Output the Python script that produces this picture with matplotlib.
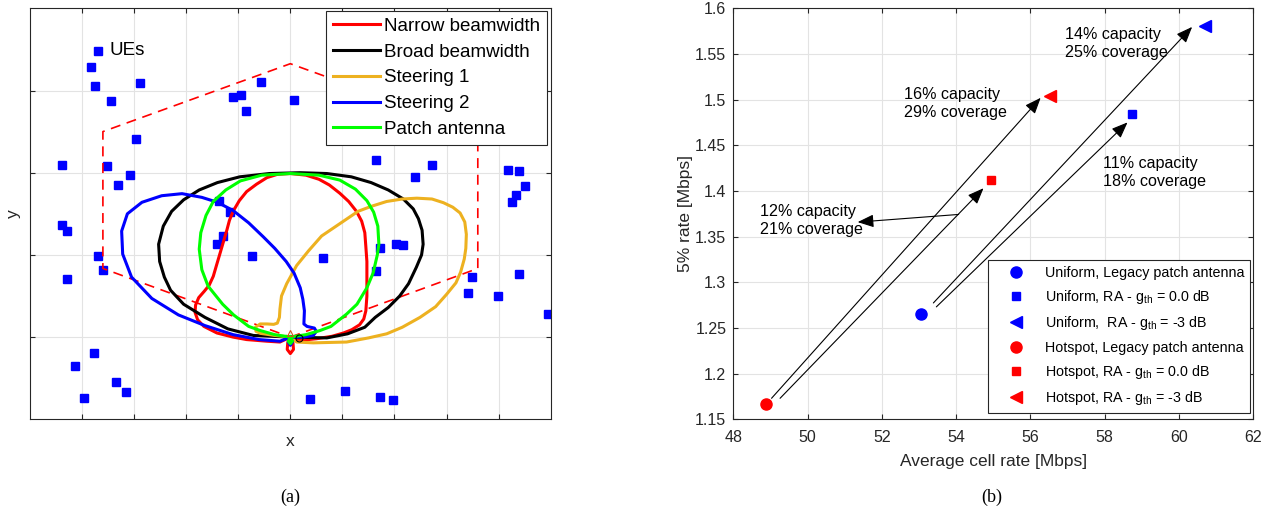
import matplotlib
matplotlib.use('Agg')
import matplotlib.pyplot as plt
import numpy as np
from matplotlib.ticker import FuncFormatter

plt.rcParams['font.family'] = ['Liberation Sans', 'DejaVu Sans']
plt.rcParams['mathtext.fontset'] = 'custom'
plt.rcParams['mathtext.rm'] = 'Liberation Sans'
plt.rcParams['mathtext.it'] = 'Liberation Sans:italic'
plt.rcParams['mathtext.bf'] = 'Liberation Sans:bold'

# ---------------- Panel (a) data ----------------
ue_x = [-3.685, -3.831, -3.749, -2.885, -3.441, -2.967, -4.388, -3.518, -3.083, -3.307,
        -0.568, -1.106, -0.940, -0.850, 0.065, 1.639, -1.363, -1.157, 2.714, 2.388,
        4.173, 4.384, 4.511, 4.326, 4.250, -4.376, -4.280, -3.685, -3.595, -4.280,
        -3.768, -4.132, -3.345, -3.159, -3.954, -1.298, -1.413, -0.729, 0.628, 1.639,
        1.722, 2.029, 2.157, 0.372, 1.050, 1.716, 1.965, 3.493, 3.411, 3.981, 4.384, 4.940]
ue_y = [3.484, 3.281, 3.052, 3.088, 2.878, 2.412, 2.090, 2.078, 1.968, 1.855,
        3.103, 2.918, 2.945, 2.748, 2.881, 2.154, 1.657, 1.527, 2.097, 1.948,
        2.033, 2.021, 1.835, 1.733, 1.648, 1.362, 1.285, 0.990, 0.817, 0.712,
        -0.189, -0.352, -0.549, -0.667, -0.735, 1.233, 1.132, 0.990, 0.966, 0.802,
        1.084, 1.132, 1.115, -0.755, -0.658, -0.727, -0.764, 0.727, 0.538, 0.505, 0.768, 0.275]

cell_x = [0.0, 3.6, 3.6, 0.0, -3.6, -3.6, 0.0]
cell_y = [0.0, 0.835, 2.5, 3.326, 2.5, 0.835, 0.0]

narrow_pts = [(0, 0), (-0.05, -0.07), (-0.06, -0.15), (0, -0.2), (0.06, -0.15), (0.05, -0.07), (0, 0),
              (0.2, -0.04), (0.5, -0.02), (0.8, 0.01), (1.02, 0.05), (1.18, 0.09), (1.33, 0.15),
              (1.41, 0.22), (1.45, 0.32), (1.47, 0.50), (1.47, 0.70), (1.47, 0.92), (1.45, 1.10),
              (1.43, 1.27), (1.37, 1.41), (1.27, 1.53), (1.12, 1.65), (0.95, 1.75), (0.75, 1.85),
              (0.55, 1.92), (0.3, 1.97), (0, 1.99), (-0.25, 1.98), (-0.45, 1.94), (-0.65, 1.86),
              (-0.84, 1.77), (-0.98, 1.66), (-1.10, 1.53), (-1.17, 1.42), (-1.22, 1.30),
              (-1.29, 1.15), (-1.35, 1.02), (-1.42, 0.87), (-1.48, 0.74), (-1.56, 0.63),
              (-1.65, 0.56), (-1.76, 0.48), (-1.82, 0.39), (-1.83, 0.30), (-1.78, 0.21),
              (-1.66, 0.13), (-1.41, 0.05), (-1.10, 0.0), (-0.84, -0.03), (-0.45, -0.05),
              (-0.2, -0.06), (0, 0)]
broad_pts = [(0, 0), (0.7, -0.01), (1.1, 0.04), (1.43, 0.12), (1.63, 0.24), (1.88, 0.36),
             (2.1, 0.50), (2.27, 0.65), (2.42, 0.85), (2.52, 1.0), (2.55, 1.13), (2.53, 1.30),
             (2.46, 1.44), (2.36, 1.56), (2.17, 1.68), (1.88, 1.79), (1.55, 1.88), (1.17, 1.95),
             (0.7, 1.99), (0.19, 2.0), (-0.4, 1.99), (-0.97, 1.95), (-1.40, 1.88), (-1.75, 1.79),
             (-2.05, 1.67), (-2.28, 1.53), (-2.44, 1.35), (-2.53, 1.13), (-2.51, 0.92),
             (-2.42, 0.73), (-2.30, 0.57), (-2.05, 0.40), (-1.64, 0.24), (-1.2, 0.10),
             (-0.71, 0.02), (0, 0)]
steer1_pts = [(0, 0), (0.12, -0.06), (0.44, -0.07), (1.08, -0.06), (1.5, -0.01), (1.85, 0.04),
              (2.15, 0.12), (2.49, 0.24), (2.79, 0.37), (3.0, 0.52), (3.18, 0.66), (3.27, 0.79),
              (3.34, 0.95), (3.37, 1.08), (3.38, 1.25), (3.35, 1.40), (3.26, 1.51), (3.12, 1.58),
              (2.94, 1.635), (2.72, 1.68), (2.43, 1.69), (2.15, 1.68), (1.85, 1.65), (1.55, 1.59),
              (1.30, 1.53), (0.95, 1.38), (0.60, 1.23), (0.35, 1.05), (0.12, 0.87), (-0.07, 0.65),
              (-0.17, 0.50), (-0.20, 0.34), (-0.21, 0.24), (-0.25, 0.17), (-0.32, 0.155),
              (-0.45, 0.16), (-0.58, 0.16), (-0.67, 0.12), (-0.66, 0.07), (-0.57, 0.045),
              (-0.3, 0.02), (0, 0)]
steer2_pts = [(0, 0), (0.25, 0.0), (0.44, 0.02), (0.50, 0.07), (0.46, 0.11), (0.32, 0.13),
              (0.26, 0.16), (0.27, 0.32), (0.24, 0.46), (0.19, 0.60), (0.07, 0.78), (-0.08, 0.92),
              (-0.30, 1.08), (-0.52, 1.22), (-0.80, 1.39), (-1.10, 1.54), (-1.40, 1.64),
              (-1.70, 1.70), (-2.08, 1.745), (-2.47, 1.72), (-2.85, 1.64), (-3.13, 1.50),
              (-3.24, 1.29), (-3.22, 1.01), (-3.05, 0.73), (-2.66, 0.47), (-2.15, 0.27),
              (-1.64, 0.14), (-1.10, 0.03), (-0.60, -0.03), (-0.2, -0.05), (0, 0),
              (0.04, -0.06), (0, -0.1), (-0.04, -0.06), (0, 0)]
patch_pts = [(0, 0), (0.3, 0.03), (0.57, 0.08), (0.78, 0.13), (1.08, 0.28), (1.28, 0.40),
             (1.47, 0.60), (1.59, 0.78), (1.67, 1.0), (1.70, 1.13), (1.68, 1.35), (1.60, 1.52),
             (1.47, 1.66), (1.25, 1.80), (0.95, 1.91), (0.55, 1.97), (0, 1.99), (-0.55, 1.97),
             (-0.96, 1.90), (-1.24, 1.79), (-1.48, 1.65), (-1.62, 1.48), (-1.72, 1.27),
             (-1.75, 1.07), (-1.70, 0.82), (-1.58, 0.62), (-1.30, 0.40), (-1.09, 0.27),
             (-0.80, 0.13), (-0.58, 0.08), (-0.3, 0.03), (0, 0), (0.04, -0.05), (0, -0.08),
             (-0.04, -0.05), (0, 0)]

pattern_names = ['Narrow beamwidth', 'Broad beamwidth', 'Steering 1', 'Steering 2', 'Patch antenna']
pattern_colors = ['#ff0000', '#000000', '#edb120', '#0000ff', '#00ff00']

antenna_tri = (0.0, 0.05)
antenna_circ = (0.17, -0.01)

# ---------------- Panel (b) data ----------------
scenario_labels = ['Uniform, Legacy patch antenna',
                   'Uniform, RA - g$_{\\mathrm{th}}$ = 0.0 dB',
                   'Uniform,  RA - g$_{\\mathrm{th}}$ = -3 dB',
                   'Hotspot, Legacy patch antenna',
                   'Hotspot, RA - g$_{\\mathrm{th}}$ = 0.0 dB',
                   'Hotspot, RA - g$_{\\mathrm{th}}$ = -3 dB']
avg_cell_rate = [53.06, 58.75, 60.71, 48.89, 54.94, 56.53]
rate_5pct = [1.265, 1.484, 1.581, 1.167, 1.4125, 1.5035]
scenario_markers = ['o', 's', '<', 'o', 's', '<']
scenario_colors = ['#0000ff', '#0000ff', '#0000ff', '#ff0000', '#ff0000', '#ff0000']

arrow_tail_x = [49.03, 49.26, 53.39, 53.47, 54.07]
arrow_tail_y = [1.173, 1.173, 1.2774, 1.2731, 1.3743]
arrow_head_x = [56.28, 54.74, 60.36, 58.62, 51.35]
arrow_head_y = [1.502, 1.403, 1.5796, 1.4751, 1.3659]

gain_texts = ['14% capacity\n25% coverage', '16% capacity\n29% coverage',
              '11% capacity\n18% coverage', '12% capacity\n21% coverage']
gain_text_x = [56.93, 52.60, 57.95, 48.71]
gain_text_y = [1.5620, 1.4955, 1.4200, 1.3680]

x_ticks_b = [48, 50, 52, 54, 56, 58, 60, 62]
y_ticks_b = [1.15, 1.2, 1.25, 1.3, 1.35, 1.4, 1.45, 1.5, 1.55, 1.6]

# ---------------- Figure ----------------
W, H = 1270, 513
fig = plt.figure(figsize=(W / 100, H / 100), dpi=100)
axL = fig.add_axes([30 / W, 1 - 419.3 / H, 520.7 / W, 411 / H])
axR = fig.add_axes([733.3 / W, 1 - 419.3 / H, 519.7 / W, 411 / H])

dark = '#262626'
grid_c = '#e3e3e3'

def style_axes(ax):
    ax.grid(True, color=grid_c, lw=0.8)
    ax.set_axisbelow(True)
    for s in ax.spines.values():
        s.set_color(dark)
        s.set_linewidth(0.8)
    ax.tick_params(direction='in', top=True, right=True, length=3.6, width=0.8,
                   color=dark, labelcolor=dark)

# ----- Panel (a) -----
style_axes(axL)
axL.set_xlim(-5, 5)
axL.set_ylim(-1, 4)
axL.set_xticks(np.arange(-4, 5, 1))
axL.set_yticks(np.arange(0, 4, 1))
axL.tick_params(labelbottom=False, labelleft=False)

axL.plot(ue_x, ue_y, 's', color='#0000ff', ms=6.2, mec='#0000ff', zorder=2)
axL.annotate('UEs', xy=(ue_x[0], ue_y[0]), xytext=(8.0, 0), textcoords='offset points',
             va='center', ha='left', fontsize=13.5, color='black')
axL.plot(cell_x, cell_y, color='#ff0000', lw=1.2, linestyle=(0, (6, 4)), zorder=3)

for pts, name, col in zip([narrow_pts, broad_pts, steer1_pts, steer2_pts, patch_pts],
                          pattern_names, pattern_colors):
    arr = np.array(pts)
    axL.plot(arr[:, 0], arr[:, 1], color=col, lw=2.2, label=name,
             solid_joinstyle='round', zorder=4)

axL.plot(*antenna_tri, '^', ms=5, mfc='none', mec='#d95319', mew=0.8, zorder=5)
axL.plot(*antenna_circ, 'o', ms=5, mfc='none', mec='black', mew=0.8, zorder=5)

legL = axL.legend(loc='upper right', bbox_to_anchor=(0.9923, 0.9934), borderaxespad=0,
                  fontsize=13.5, handlelength=2.5, handletextpad=0.22, borderpad=0.36,
                  labelspacing=0.46, fancybox=False, framealpha=1, edgecolor=dark)
legL.get_frame().set_linewidth(0.8)

axL.set_xlabel('x', fontsize=12.5, color=dark)
axL.set_ylabel('y', fontsize=12.5, color=dark)
axL.xaxis.label.set_va('center')
axL.yaxis.label.set_va('center')
axL.xaxis.set_label_coords(0.5, (419.3 - 441) / 411)
axL.yaxis.set_label_coords((13.5 - 30) / 520.7, 0.5)

# ----- Panel (b) -----
style_axes(axR)
axR.set_xlim(48, 62)
axR.set_ylim(1.15, 1.6)
axR.set_xticks(x_ticks_b)
axR.set_yticks(y_ticks_b)
axR.yaxis.set_major_formatter(FuncFormatter(lambda v, p: '%g' % round(v, 2)))
axR.tick_params(axis='x', labelsize=11.5, pad=7.8)
axR.tick_params(axis='y', labelsize=11.5, pad=5.0)

marker_sizes = {'o': 8.0, 's': 6.3, '<': 8.0}
for x, y, lab, m, c in zip(avg_cell_rate, rate_5pct, scenario_labels, scenario_markers, scenario_colors):
    axR.plot([x], [y], m, color=c, mec=c, ms=marker_sizes[m], ls='none', label=lab, zorder=5)

for x0, y0, x1, y1 in zip(arrow_tail_x, arrow_tail_y, arrow_head_x, arrow_head_y):
    axR.annotate('', xy=(x1, y1), xytext=(x0, y0),
                 arrowprops=dict(arrowstyle='-|>,head_length=0.7,head_width=0.28',
                                 lw=0.8, color='black', shrinkA=0, shrinkB=0,
                                 mutation_scale=14), zorder=4)

for t, x, y in zip(gain_texts, gain_text_x, gain_text_y):
    axR.text(x, y, t, ha='left', va='center', fontsize=11.6, linespacing=1.25, color='black')

legR = axR.legend(loc='upper left', bbox_to_anchor=(0.491, 0.3876), borderaxespad=0,
                  fontsize=10.3, handlelength=3.1, handletextpad=0.45, borderpad=0.4,
                  labelspacing=0.58, fancybox=False, framealpha=1, edgecolor=dark)
legR.get_frame().set_linewidth(0.8)

axR.set_xlabel('Average cell rate [Mbps]', fontsize=12.5, color=dark)
axR.set_ylabel('5% rate [Mbps]', fontsize=12.5, color=dark)
axR.xaxis.label.set_va('center')
axR.yaxis.label.set_va('center')
axR.xaxis.set_label_coords(0.5, (419.3 - 461.5) / 411)
axR.yaxis.set_label_coords((685.5 - 733.3) / 519.7, 0.5)

fig.text(290 / W, 1 - 497 / H, '(a)', ha='center', va='center',
         family=['Liberation Serif', 'DejaVu Serif'], fontsize=13)
fig.text(992 / W, 1 - 497 / H, '(b)', ha='center', va='center',
         family=['Liberation Serif', 'DejaVu Serif'], fontsize=13)

fig.savefig('out.png', dpi=100)
